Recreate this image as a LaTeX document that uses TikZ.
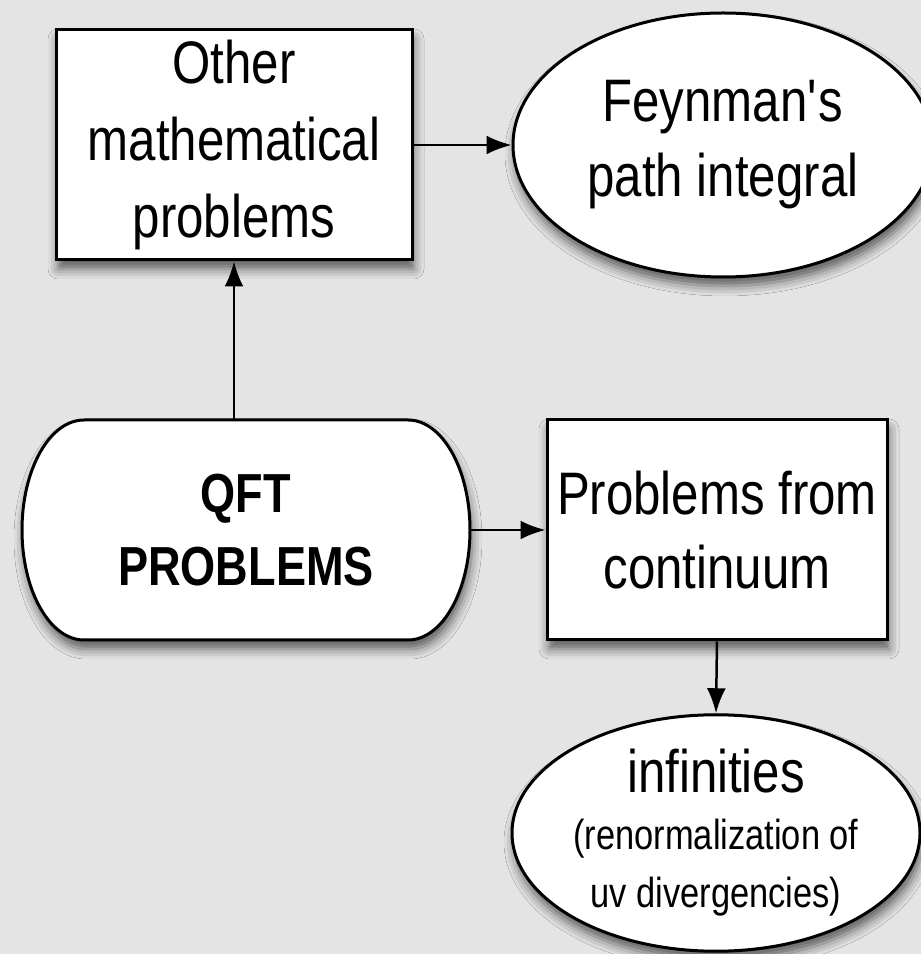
\documentclass[tikz,border=0pt]{standalone}
\usepackage{fontspec}
\setmainfont{Liberation Sans}[FakeStretch=0.82]
\usetikzlibrary{shapes.geometric,arrows.meta,shadows.blur}
\definecolor{paper}{RGB}{228,228,228}
\definecolor{ink}{RGB}{0,0,0}

\tikzset{
  panel/.style={draw=ink, line width=3pt, fill=white, inner sep=0pt, align=center,
    blur shadow={shadow xshift=2pt, shadow yshift=-9pt, shadow blur radius=10pt, shadow opacity=60}},
  box/.style={panel, rectangle, minimum width=#1},
  blob/.style={panel, ellipse},
  link/.style={-{Latex[length=25pt,width=19pt]}, line width=2.5pt, draw=ink},
  big/.style={font=\fontsize{60}{75}\selectfont},
}

\begin{document}
\begin{tikzpicture}[x=1pt,y=1pt]
\useasboundingbox (0,0) rectangle (921,954);
\fill[paper] (0,0) rectangle (921,954);

% outline with half-elliptic ends, text node goes on top
\draw[panel] (84,534) -- (408,534) arc[start angle=90, end angle=-90, x radius=62, y radius=110]
  -- (84,314) arc[start angle=270, end angle=90, x radius=62, y radius=110] -- cycle;
\node[minimum width=448, minimum height=220, inner sep=0pt, align=center,
  font=\fontsize{55}{73}\selectfont\bfseries] (qft) at (246,424) {QFT\\PROBLEMS};

\node[box=356, minimum height=230, font=\fontsize{60}{77}\selectfont] (other) at (234,809)
  {Other\\mathematical\\problems};
\node[blob, minimum width=420, minimum height=264, big] (feynman) at (723,809)
  {Feynman\textquotesingle s\\path integral};
\node[box=340, minimum height=220, font=\fontsize{60}{74}\selectfont] (continuum) at (717,424)
  {Problems from\\continuum};
\node[blob, minimum width=408, minimum height=222, big] (infinities) at (716,121)
  {infinities\\[-18pt]{\fontsize{42}{50}\selectfont (renormalization of}\\[-17pt]
   {\fontsize{42}{50}\selectfont uv divergencies)}};

\draw[link] (qft.north -| other.south) -- (other.south);
\draw[link] (other.east) -- (feynman.west);
\draw[link] (qft.east) -- (continuum.west);
\draw[link] (continuum.south) -- (infinities.north);
\end{tikzpicture}
\end{document}
